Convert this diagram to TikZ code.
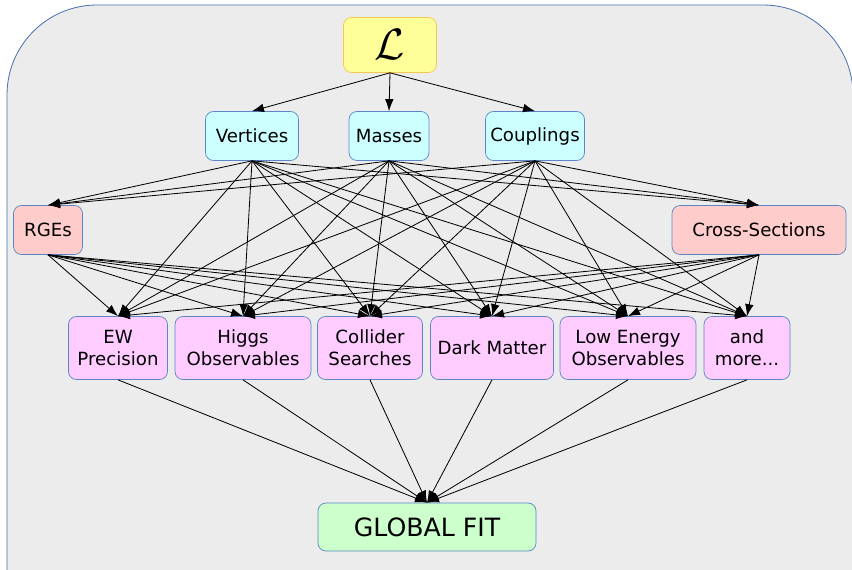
\documentclass[tikz,border=0pt]{standalone}
\usepackage{amsmath}
\usepackage{fontspec}
\setmainfont{DejaVu Sans}
\usepackage{tikz}
\usetikzlibrary{arrows.meta}
\usepackage{xcolor}
\definecolor{cBG}{HTML}{ECECEC}
\definecolor{cFRAME}{HTML}{4A72B0}
\definecolor{cEDGE}{HTML}{5A86C5}
\definecolor{cLAG}{HTML}{FFFF99}
\definecolor{cLAGB}{HTML}{F2C94C}
\definecolor{cPAR}{HTML}{CCFFFF}
\definecolor{cTOOL}{HTML}{FFCCCC}
\definecolor{cOBS}{HTML}{FFCCFF}
\definecolor{cFIT}{HTML}{CCFFCC}

\begin{document}
\begin{tikzpicture}[
  x=0.03cm, y=-0.03cm,
  box/.style={rectangle, rounded corners=0.24cm, draw=cEDGE, line width=0.6pt,
    inner sep=0pt, align=center, font=\fontsize{15.5}{18.5}\selectfont, minimum height=1.47cm},
  par/.style={box, fill=cPAR},
  tool/.style={box, fill=cTOOL},
  obs/.style={box, fill=cOBS, minimum height=1.89cm},
  arr/.style={-{Latex[length=0.36cm, width=0.26cm]}, line width=0.7pt}
]
\clip (0,0) rectangle (852,570);
\fill[cBG, draw=cFRAME, line width=0.7pt, rounded corners=2.7cm] (7,5) rectangle (853,660);

\node[box, fill=cLAG, draw=cLAGB, minimum width=2.79cm, minimum height=1.65cm] (lag) at (390,45) {\scalebox{2.6}{$\mathcal{L}$}};

\node[par, minimum width=2.79cm] (vert) at (252,136) {Vertices};
\node[par, minimum width=2.40cm] (mass) at (389,136) {Masses};
\node[par, minimum width=2.97cm] (coup) at (535,136) {Couplings};

\node[tool, minimum width=2.07cm] (rge) at (48,230) {RGEs};
\node[tool, minimum width=5.22cm] (xsec) at (759,230) {Cross-Sections};

\node[obs, minimum width=2.97cm] (ew) at (118,348) {EW\\Precision};
\node[obs, minimum width=4.08cm] (higgs) at (243,348) {Higgs\\Observables};
\node[obs, minimum width=3.15cm] (coll) at (370,348) {Collider\\Searches};
\node[obs, minimum width=3.69cm] (dm) at (492,348) {Dark Matter};
\node[obs, minimum width=4.08cm] (lowe) at (628,348) {Low Energy\\Observables};
\node[obs, minimum width=2.58cm] (more) at (747,348) {and\\more...};

\node[box, fill=cFIT, minimum width=6.54cm, minimum height=1.44cm, font=\fontsize{21.5}{24}\selectfont] (fit) at (427,527) {GLOBAL FIT};

\foreach \p in {vert,mass,coup} \draw[arr] (lag.south) -- (\p.north);
\foreach \p in {vert,mass,coup} \foreach \t in {rge,xsec} \draw[arr] (\p.south) -- (\t.north);
\foreach \s in {vert,mass,coup,rge,xsec} \foreach \o in {ew,higgs,coll,dm,lowe,more} \draw[arr] (\s.south) -- (\o.north);
\foreach \o in {ew,higgs,coll,dm,lowe,more} \draw[arr] (\o.south) -- (fit.north);
\end{tikzpicture}
\end{document}
